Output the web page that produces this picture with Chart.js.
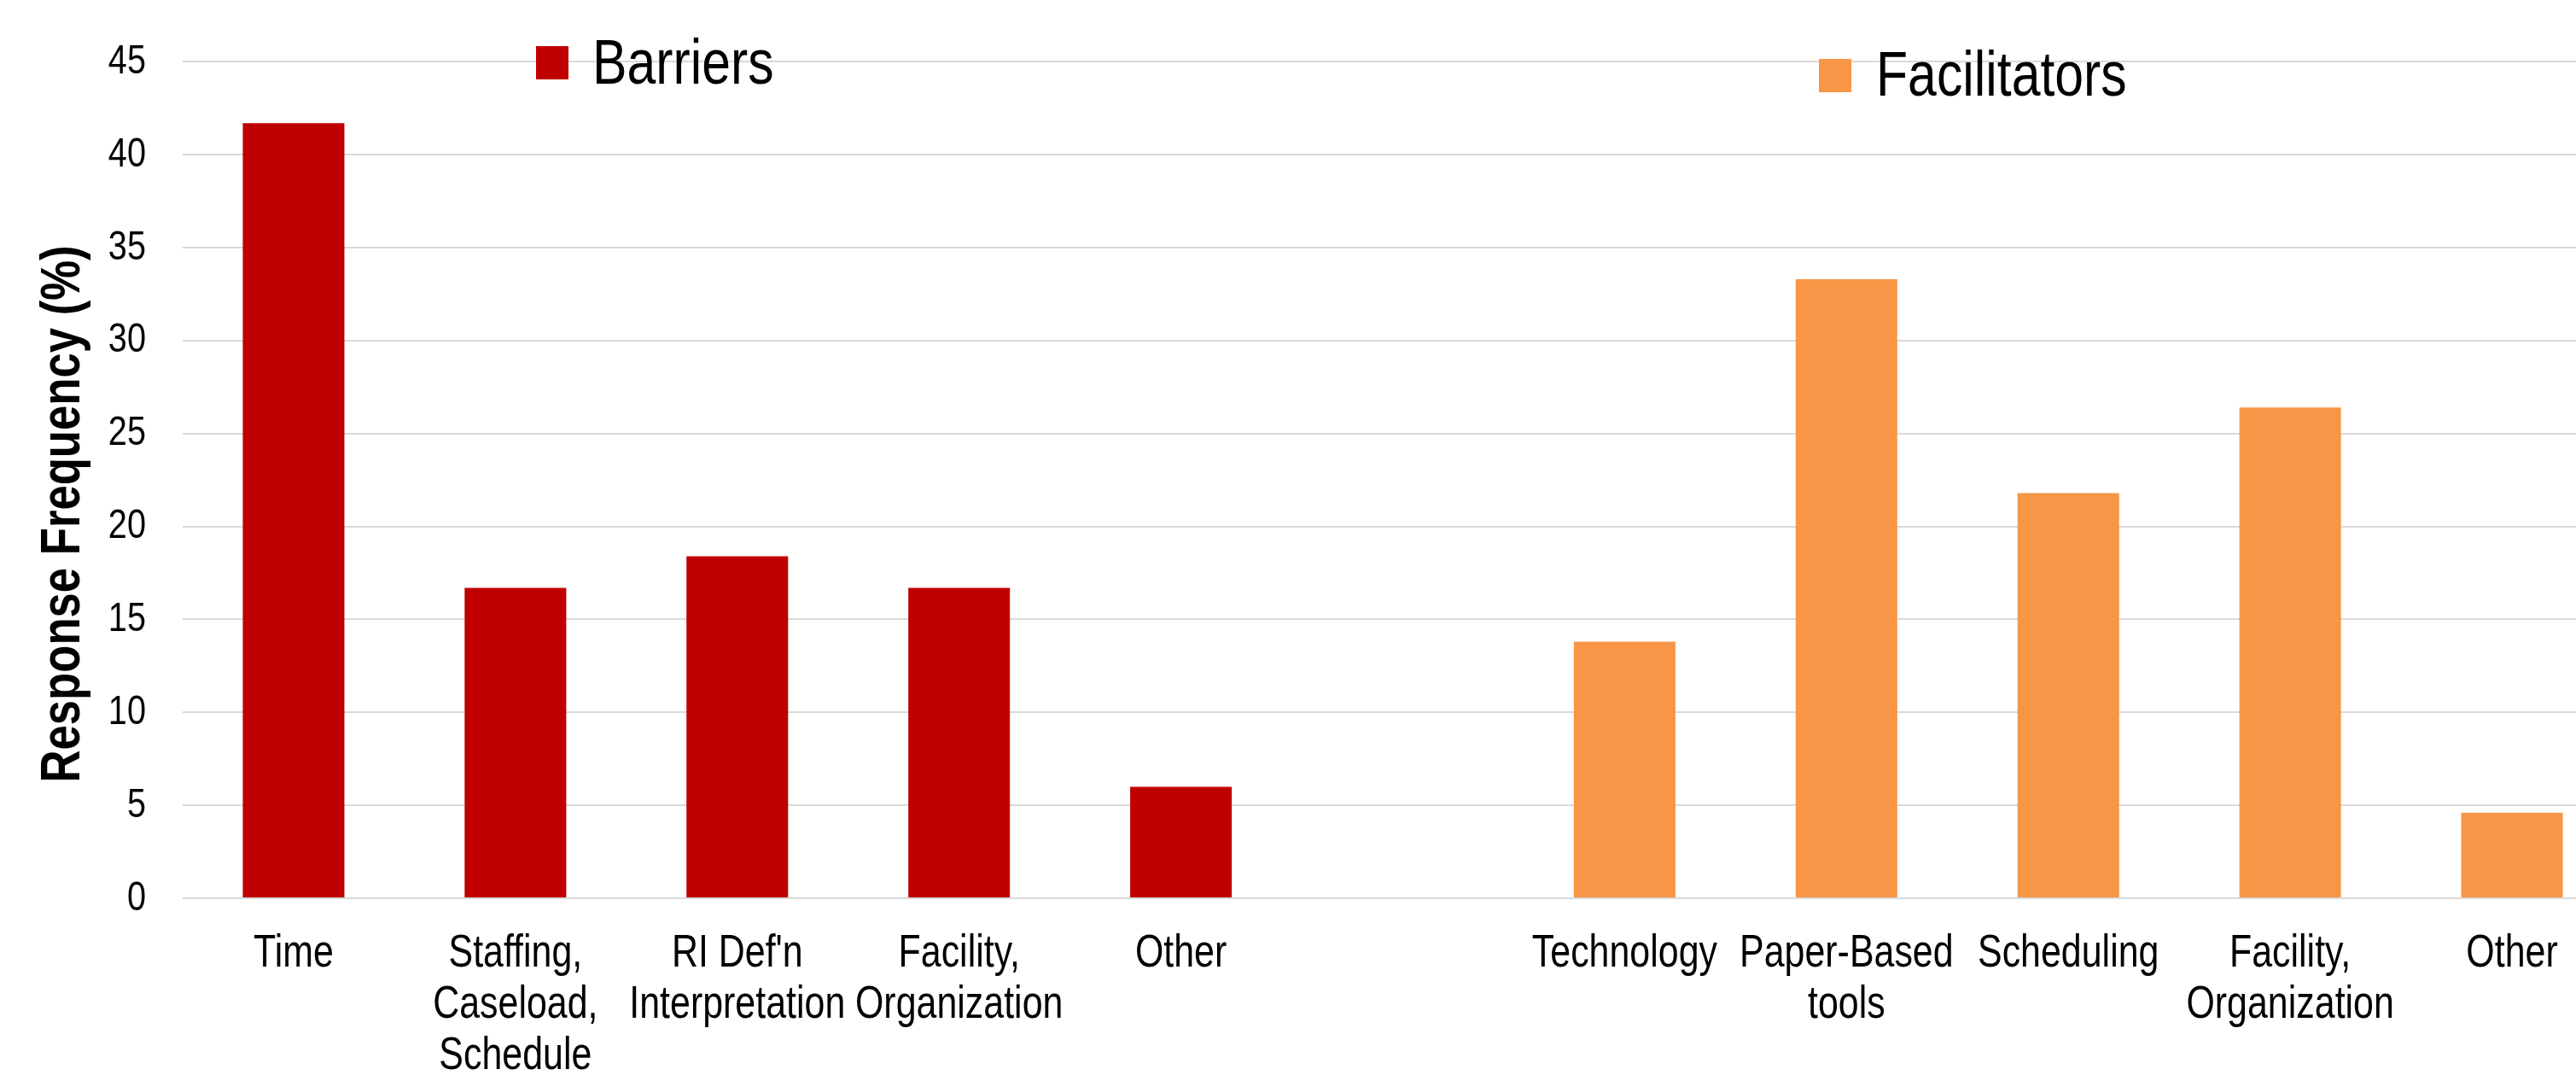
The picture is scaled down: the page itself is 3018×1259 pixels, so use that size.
<!DOCTYPE html>
<html>
<head>
<meta charset="utf-8">
<script src="https://cdn.jsdelivr.net/npm/chart.js@4"></script>
<style>
  html, body { margin: 0; padding: 0; background: #ffffff; overflow: hidden; }
  #wrap { position: relative; width: 3073px; height: 1259px; }
</style>
</head>
<body>
<div id="wrap"><canvas id="chart"></canvas></div>
<script>
// Categories: five barriers, an empty spacer slot, five facilitators
const categories = [
  'Time',
  ['Staffing,', 'Caseload,', 'Schedule'],
  ["RI Def'n", 'Interpretation'],
  ['Facility,', 'Organization'],
  'Other',
  '',
  'Technology',
  ['Paper-Based', 'tools'],
  'Scheduling',
  ['Facility,', 'Organization'],
  'Other'
];

// Response frequency (%) per category
const barrierValues     = [41.7, 16.7, 18.4, 16.7, 6.0, null, null, null, null, null, null];
const facilitatorValues = [null, null, null, null, null, null, 13.8, 33.3, 21.8, 26.4, 4.6];

const seriesNames = ['Barriers', 'Facilitators'];
const yTicks = [0, 5, 10, 15, 20, 25, 30, 35, 40, 45];
const axisTitle = 'Response Frequency (%)';

const FONT = "'Liberation Sans', Arial, sans-serif";
const RED = '#C00000';
const ORANGE = '#F79646';

// Condensed lettering: squeeze every string along its own writing direction
const NARROW = 0.81;
const canvas = document.getElementById('chart');
const ctx2d = canvas.getContext('2d');
const baseFill = ctx2d.fillText.bind(ctx2d);
const baseMeasure = ctx2d.measureText.bind(ctx2d);
ctx2d.fillText = function (text, x, y, maxWidth) {
  this.save();
  this.translate(x, y);
  this.scale(NARROW, 1);
  if (maxWidth === undefined) baseFill(text, 0, 0);
  else baseFill(text, 0, 0, maxWidth / NARROW);
  this.restore();
};
ctx2d.measureText = function (text) {
  const m = baseMeasure(text);
  return {
    width: m.width * NARROW,
    actualBoundingBoxAscent: m.actualBoundingBoxAscent,
    actualBoundingBoxDescent: m.actualBoundingBoxDescent,
    actualBoundingBoxLeft: m.actualBoundingBoxLeft * NARROW,
    actualBoundingBoxRight: m.actualBoundingBoxRight * NARROW
  };
};

// Legend entries placed individually above each group
const splitLegend = {
  id: 'splitLegend',
  afterDraw(chart) {
    const ctx = chart.ctx;
    const spots = [
      { sx: 628, sy: 54, tx: 694, ty: 77 },
      { sx: 2131, sy: 69, tx: 2198, ty: 91 }
    ];
    chart.data.datasets.forEach((ds, i) => {
      const p = spots[i];
      ctx.save();
      ctx.fillStyle = ds.backgroundColor;
      ctx.fillRect(p.sx, p.sy, 38, 39);
      ctx.fillStyle = '#000000';
      ctx.font = '75px ' + FONT;
      ctx.textAlign = 'left';
      ctx.textBaseline = 'middle';
      ctx.fillText(ds.label, p.tx, p.ty);
      ctx.restore();
    });
  }
};

// Vertical axis title
const yTitle = {
  id: 'yTitle',
  afterDraw(chart) {
    const ctx = chart.ctx;
    ctx.save();
    ctx.translate(75, 602);
    ctx.rotate(-Math.PI / 2);
    ctx.fillStyle = '#000000';
    ctx.font = 'bold 65px ' + FONT;
    ctx.textAlign = 'center';
    ctx.textBaseline = 'middle';
    ctx.fillText(axisTitle, 0, 0);
    ctx.restore();
  }
};

new Chart(canvas, {
  type: 'bar',
  data: {
    labels: categories,
    datasets: [
      { label: seriesNames[0], data: barrierValues, backgroundColor: RED },
      { label: seriesNames[1], data: facilitatorValues, backgroundColor: ORANGE }
    ]
  },
  options: {
    responsive: true,
    maintainAspectRatio: false,
    animation: false,
    devicePixelRatio: 1,
    grouped: false,
    categoryPercentage: 1,
    barPercentage: 0.458,
    layout: { padding: { left: 0, right: 0, top: 68, bottom: 0 } },
    plugins: {
      legend: { display: false },
      tooltip: { enabled: false },
      title: { display: false }
    },
    scales: {
      x: {
        grid: { display: false, drawTicks: false },
        border: { display: false },
        ticks: {
          autoSkip: false,
          maxRotation: 0,
          minRotation: 0,
          padding: 35,
          color: '#000000',
          font: { family: FONT, size: 53, lineHeight: 1.132 }
        },
        afterFit(scale) { scale.height = 207; }
      },
      y: {
        min: 0,
        max: 45,
        afterBuildTicks(scale) { scale.ticks = yTicks.map(v => ({ value: v })); },
        grid: { color: '#D9D9D9', lineWidth: 2, drawTicks: false },
        border: { display: false },
        ticks: {
          padding: 43,
          color: '#000000',
          font: { family: FONT, size: 49 }
        },
        afterFit(scale) { scale.width = 214; }
      }
    }
  },
  plugins: [splitLegend, yTitle]
});
</script>
</body>
</html>
